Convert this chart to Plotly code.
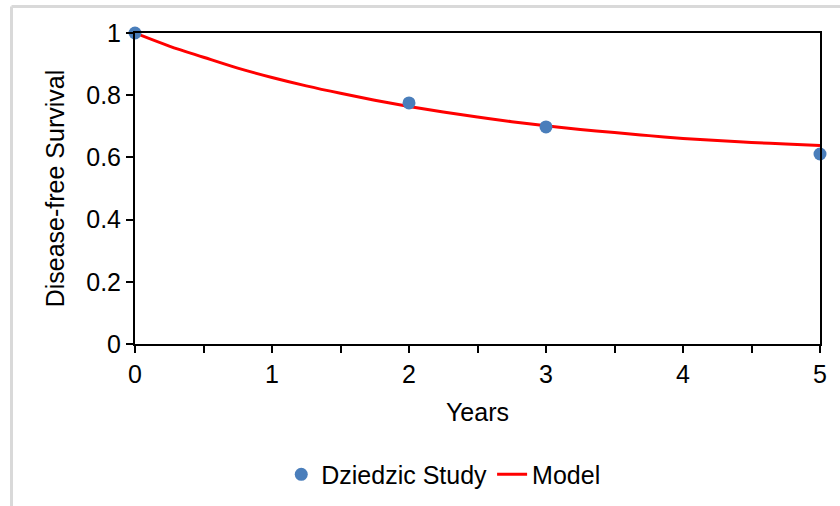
import plotly.graph_objects as go

# Data
study_years = [0, 2, 3, 5]
study_survival = [1.0, 0.775, 0.698, 0.611]

model_years = [0, 0.25, 0.5, 0.75, 1, 1.25, 1.5, 1.75, 2, 2.25, 2.5, 2.75, 3, 3.25, 3.5, 3.75, 4, 4.25, 4.5, 4.75, 5]
model_survival = [1.0, 0.958, 0.922, 0.887, 0.857, 0.830, 0.806, 0.784, 0.764, 0.746, 0.730, 0.715, 0.702, 0.690, 0.680, 0.670, 0.661, 0.654, 0.648, 0.643, 0.638]

x_tick_vals = [0, 1, 2, 3, 4, 5]
y_tick_vals = [0, 0.2, 0.4, 0.6, 0.8, 1]
y_tick_text = ["0", "0.2", "0.4", "0.6", "0.8", "1"]

FONT = "Liberation Sans, Arial, sans-serif"
FS = 25

fig = go.Figure()
fig.add_trace(go.Scatter(
    x=model_years, y=model_survival, mode="lines", name="Model",
    line=dict(color="#FF0000", width=3, shape="spline"),
))
fig.add_trace(go.Scatter(
    x=study_years, y=study_survival, mode="markers", name="Dziedzic Study",
    marker=dict(color="#4A7EBB", size=13), cliponaxis=False,
))

frame_line = dict(color="#D9D9D9", width=3)

fig.update_layout(
    width=840, height=506,
    margin=dict(l=135, r=20, t=33, b=162, autoexpand=False),
    paper_bgcolor="white", plot_bgcolor="white",
    font=dict(family=FONT, size=FS, color="#000000"),
    showlegend=True,
    legend=dict(
        orientation="h", x=0.45, y=-0.42, xanchor="center", yanchor="middle",
        traceorder="reversed", font=dict(size=FS, family=FONT),
        bgcolor="rgba(0,0,0,0)",
    ),
    xaxis=dict(
        range=[0, 5], tickvals=x_tick_vals, ticks="outside", ticklen=7, tickwidth=2,
        tickcolor="#000", showline=True, linecolor="#000", linewidth=2, mirror=True,
        showgrid=False, zeroline=False, automargin=False,
        minor=dict(dtick=0.5, ticks="outside", ticklen=7, tickwidth=2, tickcolor="#000", showgrid=False),
        title=dict(text="Years", font=dict(size=FS, family=FONT), standoff=16),
        tickfont=dict(size=FS, family=FONT),
    ),
    yaxis=dict(
        range=[0, 1], tickvals=y_tick_vals, ticktext=y_tick_text,
        ticks="outside", ticklen=7, tickwidth=2,
        tickcolor="#000", showline=True, linecolor="#000", linewidth=2, mirror=True,
        showgrid=False, zeroline=False, automargin=False,
        title=dict(text="Disease-free Survival", font=dict(size=FS, family=FONT), standoff=14),
        tickfont=dict(size=FS, family=FONT),
    ),
    shapes=[
        dict(type="line", xref="paper", yref="paper",
             x0=-0.1803, x1=-0.1803, y0=-0.6, y1=1.0852, line=frame_line, layer="below"),
        dict(type="line", xref="paper", yref="paper",
             x0=-0.1803, x1=1.1, y0=1.0852, y1=1.0852, line=frame_line, layer="below"),
    ],
)

fig.write_html("out.html", config={"displayModeBar": False},
               post_script="document.body.style.margin='0px';")
